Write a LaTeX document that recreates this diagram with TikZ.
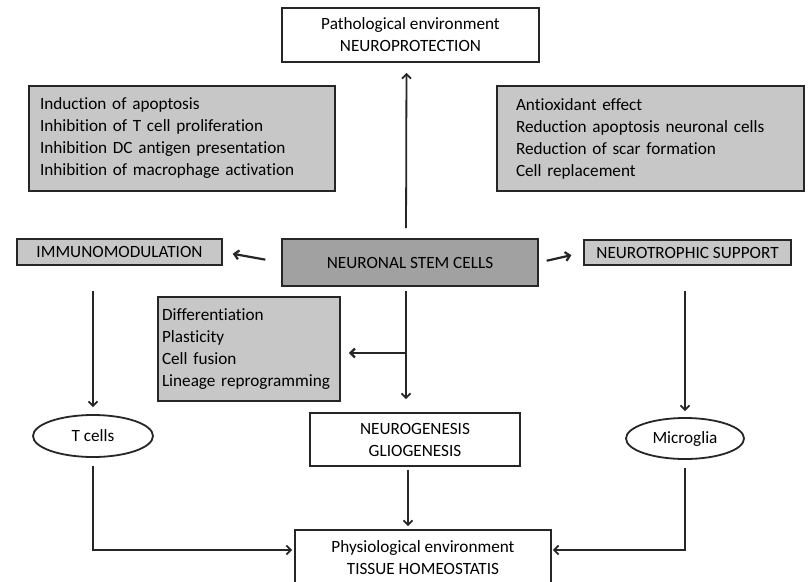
\documentclass[tikz,border=0pt]{standalone}
\usepackage{fontspec}
\setmainfont[Ligatures=NoCommon]{Carlito}
\usetikzlibrary{shapes.geometric,arrows.meta}

\begin{document}
\begin{tikzpicture}[x=1pt,y=-1pt,font=\fontsize{17.2}{22}\selectfont]
	\tikzstyle{box} = [draw=black!85, line width=1.8pt, rectangle, inner sep=0pt, align=center]
	\tikzstyle{greybox} = [box, fill=black!22, align=left, inner xsep=0pt]
	\tikzstyle{cell} = [draw=black!85, line width=1.8pt, ellipse, inner sep=0pt]
	\tikzstyle{link} = [draw=black!85, line width=1.8pt, -{Straight Barb[length=4.5pt,width=9pt]}]
	\clip (0,0) rectangle (808,581);
	\fill[white] (0,0) rectangle (808,581);
		\node[box, minimum width=257, minimum height=54] (patho) at (410.5,35) {Pathological environment\\NEUROPROTECTION};
		\node[greybox, minimum width=306, minimum height=105, text width=284] (immunoeff) at (182,138.5) {Induction of apoptosis\\Inhibition of T cell proliferation\\Inhibition DC antigen presentation\\Inhibition of macrophage activation};
		\node[greybox, minimum width=307, minimum height=105, text width=269] (trophiceff) at (650.5,138.5) {Antioxidant effect\\Reduction apoptosis neuronal cells\\Reduction of scar formation\\Cell replacement};
		\node[box, fill=black!22, minimum width=205, minimum height=26] (immuno) at (119.5,252) {IMMUNOMODULATION};
		\node[box, fill=black!37, minimum width=256, minimum height=47] (nsc) at (410,262.5) {NEURONAL STEM CELLS};
		\node[box, fill=black!22, minimum width=207, minimum height=25] (trophic) at (687.5,252.5) {NEUROTROPHIC SUPPORT};
		\node[greybox, minimum width=182, minimum height=104, text width=174] (mech) at (249,349) {Differentiation\\Plasticity\\Cell fusion\\Lineage reprogramming};
		\node[box, minimum width=210, minimum height=53] (genesis) at (415,439.5) {NEUROGENESIS\\GLIOGENESIS};
		\node[cell, minimum width=120, minimum height=42] (tcells) at (93,436) {T cells};
		\node[cell, minimum width=118, minimum height=41] (microglia) at (685,438.5) {Microglia};
		\node[box, minimum width=256, minimum height=56] (physio) at (423,558) {Physiological environment\\TISSUE HOMEOSTATIS};
	\coordinate (fork) at (406,353);
	\draw[link, shorten <=10pt, shorten >=10pt] ([xshift=-4pt]nsc.north) -- ([xshift=-4pt]patho.south);
	\draw[link, line width=2.2pt, shorten <=16pt, shorten >=10pt] (nsc.west) -- (immuno.east);
	\draw[link, line width=2.2pt, shorten <=8pt, shorten >=12pt] (nsc.east) -- (trophic.west);
	\draw[link, shorten <=25pt, shorten >=7pt] (immuno.south -| tcells.north) -- (tcells.north);
	\draw[link, shorten <=25pt, shorten >=6pt] (trophic.south -| microglia.north) -- (microglia.north);
	\draw[link, shorten <=4pt, shorten >=13pt] (nsc.south -| fork) -- (fork |- genesis.north);
	\draw[link, line width=2.2pt, shorten >=8pt] (fork) -- (fork -| mech.east);
	\draw[link, shorten <=3pt, shorten >=3pt] ([xshift=-7pt]genesis.south) -- ([xshift=-7pt]genesis.south |- physio.north);
	\draw[link, shorten <=8pt, shorten >=2pt] (tcells.south) |- ([yshift=8pt]physio.west);
	\draw[link, shorten <=8pt, shorten >=1pt] (microglia.south) |- ([yshift=8pt]physio.east);
\end{tikzpicture}
\end{document}
